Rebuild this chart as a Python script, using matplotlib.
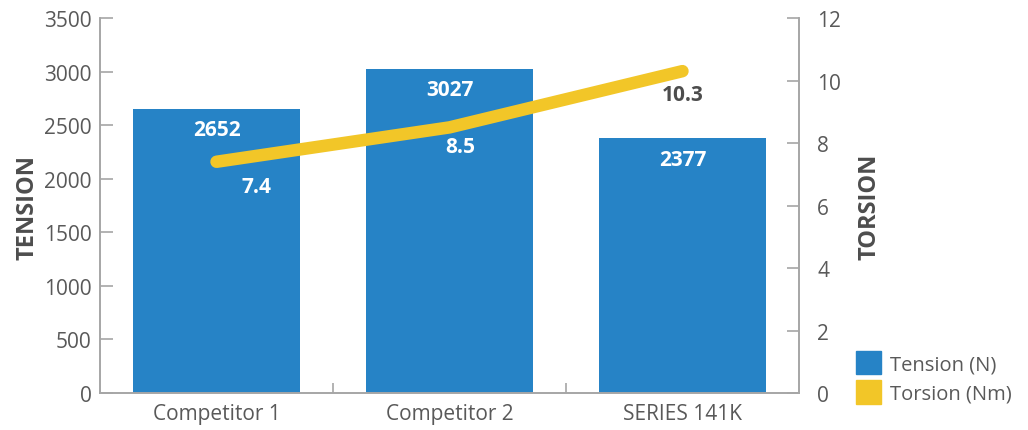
import matplotlib.pyplot as plt
from matplotlib.patches import Patch

categories = ["Competitor 1", "Competitor 2", "SERIES 141K"]
tension = [2652, 3027, 2377]
torsion = [7.4, 8.5, 10.3]
tension_ticks = [0, 500, 1000, 1500, 2000, 2500, 3000, 3500]
torsion_ticks = [0, 2, 4, 6, 8, 10, 12]

BLUE = "#2683c6"
YELLOW = "#f2c628"
GRAY = "#595959"
SPINE = "#a6a6a6"

plt.rcParams['font.family'] = ['Open Sans', 'DejaVu Sans']

fig = plt.figure(figsize=(10.28, 4.31), dpi=100)
ax = fig.add_axes([0.0973, 0.0858, 0.6799, 0.8701])
ax2 = ax.twinx()

x = list(range(len(categories)))
ax.bar(x, tension, width=0.72, color=BLUE, zorder=2)
ax2.plot(x, torsion, color=YELLOW, linewidth=9, solid_capstyle='round',
         solid_joinstyle='round', zorder=3)

ax.set_xlim(-0.5, 2.5)
ax.set_ylim(0, 3500)
ax2.set_ylim(0, 12)
ax.set_yticks(tension_ticks)
ax2.set_yticks(torsion_ticks)
ax.set_xticks(x)
ax.set_xticklabels(categories)
ax.set_xticks([0.5, 1.5], minor=True)

for a in (ax, ax2):
    a.spines['top'].set_visible(False)
    for s in ('left', 'right', 'bottom'):
        a.spines[s].set_color(SPINE)
        a.spines[s].set_linewidth(1.2)

ax.tick_params(axis='y', direction='in', length=9, width=1.2, color=SPINE,
               labelsize=15, labelcolor=GRAY, pad=6)
ax2.tick_params(axis='y', direction='in', length=9, width=1.2, color=SPINE,
                labelsize=15, labelcolor=GRAY, pad=13)
ax.tick_params(axis='x', which='major', length=0, labelsize=15,
               labelcolor=GRAY, pad=7)
ax.tick_params(axis='x', which='minor', direction='in', length=7, width=1.2,
               color=SPINE)

# value labels
for xi, v in zip(x, tension):
    ax.annotate(str(v), (xi, v), xytext=(0, -21), textcoords='offset pixels',
                ha='center', va='center', color='white', fontsize=15,
                fontweight='bold', zorder=4)

line_offsets = [(40, -25), (11, -19), (0, -23)]
line_colors = ['white', 'white', '#4d4d4d']
for xi, v, off, c in zip(x, torsion, line_offsets, line_colors):
    ax2.annotate(f"{v:.1f}", (xi, v), xytext=off, textcoords='offset pixels',
                 ha='center', va='center', color=c, fontsize=15,
                 fontweight='bold', zorder=5)

fig.text(28 / 1028, 1 - 207 / 431, "TENSION", rotation=90, ha='center',
         va='center', fontsize=17, fontweight='bold', color='#4d4d4d')
fig.text(869 / 1028, 1 - 207 / 431, "TORSION", rotation=90, ha='center',
         va='center', fontsize=17, fontweight='bold', color='#4d4d4d')

handles = [Patch(color=BLUE, label="Tension (N)"),
           Patch(color=YELLOW, label="Torsion (Nm)")]
fig.legend(handles=handles, loc='upper left',
           bbox_to_anchor=(838 / 1028, 1 - 334 / 431), frameon=False,
           fontsize=14.5, handlelength=1.24, handleheight=1.4,
           handletextpad=0.45, labelspacing=0.3, labelcolor=GRAY)

fig.savefig("out.png", dpi=100)
